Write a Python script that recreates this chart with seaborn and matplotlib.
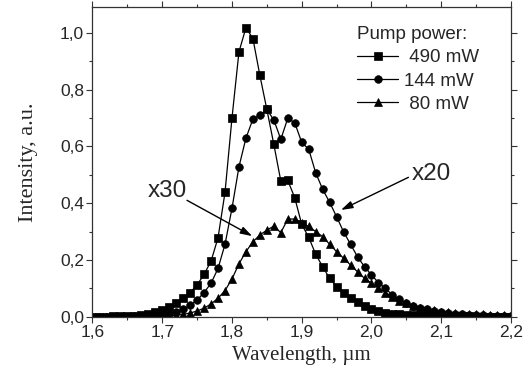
import numpy as np
import pandas as pd
import seaborn as sns
import matplotlib.pyplot as plt
from matplotlib.ticker import MultipleLocator, FuncFormatter

# wavelength grid, um (one point every 0.01)
wavelength = np.round(np.arange(1.60, 2.2001, 0.01), 2)

# 490 mW (squares)
p490 = [0.000, 0.000, 0.000, 0.001, 0.001, 0.002, 0.004, 0.006, 0.010, 0.015,
        0.022, 0.033, 0.049, 0.066, 0.085, 0.112, 0.149, 0.196, 0.278, 0.438,
        0.700, 0.933, 1.018, 0.980, 0.850, 0.730, 0.607, 0.478, 0.480, 0.419,
        0.325, 0.280, 0.220, 0.176, 0.135, 0.106, 0.082, 0.065, 0.051, 0.038,
        0.027, 0.020, 0.014, 0.011, 0.009, 0.007, 0.005, 0.004, 0.003, 0.002,
        0.002, 0.001, 0.001, 0.001, 0.001, 0.000, 0.000, 0.000, 0.000, 0.000,
        0.000]

# 144 mW (circles), x20
p144 = [0.000, 0.000, 0.000, 0.000, 0.000, 0.000, 0.001, 0.002, 0.003, 0.005,
        0.007, 0.011, 0.016, 0.026, 0.040, 0.059, 0.085, 0.118, 0.170, 0.255,
        0.382, 0.528, 0.629, 0.696, 0.710, 0.730, 0.693, 0.625, 0.699, 0.683,
        0.614, 0.590, 0.507, 0.449, 0.403, 0.352, 0.299, 0.255, 0.211, 0.176,
        0.147, 0.120, 0.100, 0.076, 0.062, 0.047, 0.039, 0.031, 0.026, 0.020,
        0.016, 0.013, 0.010, 0.008, 0.007, 0.006, 0.005, 0.004, 0.004, 0.003,
        0.003]

# 80 mW (triangles), x30
p80 = [0.000, 0.000, 0.000, 0.000, 0.000, 0.000, 0.000, 0.000, 0.001, 0.001,
       0.002, 0.003, 0.005, 0.008, 0.013, 0.020, 0.030, 0.045, 0.065, 0.092,
       0.133, 0.186, 0.229, 0.264, 0.288, 0.305, 0.319, 0.296, 0.344, 0.344,
       0.330, 0.318, 0.300, 0.282, 0.255, 0.229, 0.206, 0.182, 0.158, 0.135,
       0.118, 0.100, 0.085, 0.071, 0.057, 0.048, 0.039, 0.031, 0.026, 0.022,
       0.018, 0.015, 0.013, 0.011, 0.010, 0.009, 0.008, 0.007, 0.006, 0.006,
       0.005]

labels = [" 490 mW", "144 mW", " 80 mW"]

df = pd.DataFrame({"wl": wavelength, labels[0]: p490, labels[1]: p144, labels[2]: p80})
df = df.melt(id_vars="wl", var_name="power", value_name="I")

sns.set_style("ticks")
plt.rcParams["font.family"] = ["Liberation Sans", "DejaVu Sans"]

fig = plt.figure(figsize=(5.27, 3.87), dpi=100)
ax = fig.add_axes([0.1755, 0.1817, 0.7941, 0.7994])

sns.lineplot(data=df, x="wl", y="I", hue="power", style="power",
             hue_order=labels, style_order=labels,
             palette=["black"] * 3, markers=["s", "o", "^"], dashes=False,
             markersize=5.5, markeredgecolor="black", markeredgewidth=0.5,
             linewidth=0.9, errorbar=None, ax=ax)

ax.set_xlim(1.6, 2.2)
ax.set_ylim(0, 1.09)
ax.xaxis.set_major_locator(MultipleLocator(0.1))
ax.xaxis.set_minor_locator(MultipleLocator(0.05))
ax.yaxis.set_major_locator(MultipleLocator(0.2))
ax.yaxis.set_minor_locator(MultipleLocator(0.1))
comma = FuncFormatter(lambda v, p: f"{v:.1f}".replace(".", ","))
ax.xaxis.set_major_formatter(comma)
ax.yaxis.set_major_formatter(comma)
ax.tick_params(which="both", direction="out", top=True, right=True, width=0.8, color="#333333")
ax.tick_params(which="major", length=4, labelsize=12.5, pad=2)
ax.tick_params(which="minor", length=2.5)
for s in ax.spines.values():
    s.set_linewidth(0.9)
    s.set_color("#333333")

ax.set_xlabel("Wavelength, µm", family="Liberation Serif", fontsize=15, labelpad=4)
ax.set_ylabel("Intensity, a.u.", family="Liberation Serif", fontsize=16, labelpad=16)

h, l = ax.get_legend_handles_labels()
leg = ax.legend(h, l, title="Pump power:", loc="upper left", bbox_to_anchor=(0.632, 0.94),
                frameon=False, fontsize=13.5, title_fontsize=13.5, alignment="left",
                handlelength=2.2, handletextpad=0.3, labelspacing=0.33, borderpad=0,
                borderaxespad=0)

ax.text(1.7355, 0.442, "x30", ha="right", va="center", fontsize=17.5)
ax.annotate("", xy=(1.829, 0.284), xytext=(1.7355, 0.41),
            arrowprops=dict(arrowstyle="-|>,head_length=0.7,head_width=0.22",
                            color="black", lw=1, shrinkA=0, shrinkB=0))
ax.text(2.058, 0.502, "x20", ha="left", va="center", fontsize=17.5)
ax.annotate("", xy=(1.9563, 0.376), xytext=(2.053, 0.491),
            arrowprops=dict(arrowstyle="-|>,head_length=0.7,head_width=0.22",
                            color="black", lw=1, shrinkA=0, shrinkB=0))

fig.savefig("out.png", dpi=100)
